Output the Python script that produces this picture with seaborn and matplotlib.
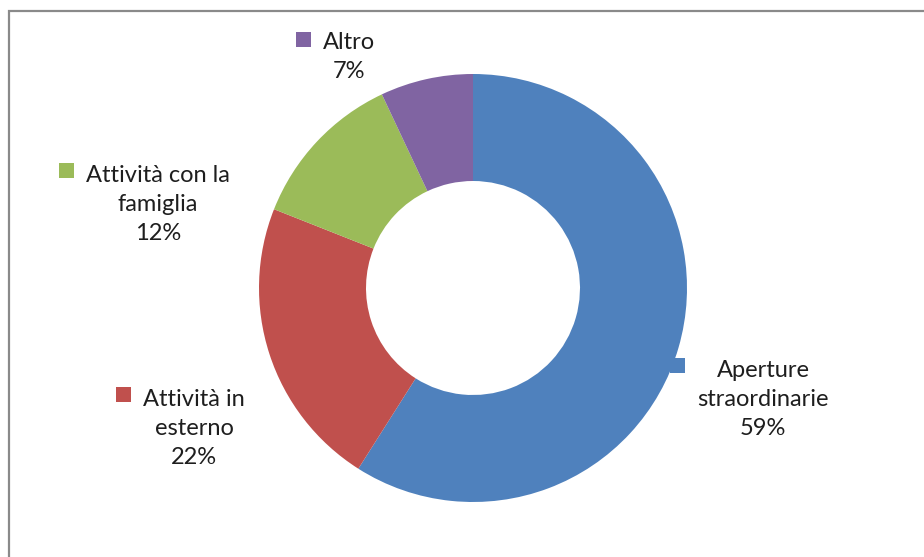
import matplotlib
matplotlib.use('Agg')
import matplotlib.pyplot as plt
from matplotlib.patches import Rectangle
import seaborn as sns

# data
categories = ['Aperture\nstraordinarie', 'Attività in\nesterno', 'Attività con la\nfamiglia', 'Altro']
shares = [59, 22, 12, 7]
colors = ['#4F81BD', '#C0504D', '#9BBB59', '#8064A2']

# label anchors: centre x, baseline of first line (pixels from top-left)
label_pos = [(763, 373), (194, 402), (158, 178), (349, 47)]
line_step = 31  # pixels between baselines

W, H = 924, 557

sns.set_theme(style='white')
plt.rcParams['font.family'] = ['Lato', 'DejaVu Sans']

fig = plt.figure(figsize=(W / 100, H / 100), dpi=100)
ax = fig.add_axes([0, 0, 1, 1])

palette = sns.color_palette(colors)
ax.pie(shares, colors=palette, startangle=90, counterclock=False,
       radius=214, center=(473, H - 288),
       wedgeprops=dict(width=107, linewidth=0))
ax.set_xlim(0, W)
ax.set_ylim(0, H)
ax.set_aspect('equal')
ax.axis('off')

# outer chart frame (right and bottom edges fall outside the image)
ax.add_patch(Rectangle((9, -20), W + 20, H - 11 + 20, fill=False,
                       edgecolor='#8a8a8a', linewidth=1.6, clip_on=False))

texts = []
for cat, val, (x, yb) in zip(categories, shares, label_pos):
    label = f'{cat}\n{val}%'
    n_lines = label.count('\n') + 1
    # multi-line text with va='baseline' sits on its last line
    t = ax.text(x, H - (yb + (n_lines - 1) * line_step), label,
                ha='center', va='baseline', multialignment='center',
                fontsize=17, color='#1e1e1e', linespacing=1.46)
    texts.append(t)

fig.canvas.draw()
renderer = fig.canvas.get_renderer()
for t, c, (x, yb) in zip(texts, palette, label_pos):
    bb = t.get_window_extent(renderer)
    ax.add_patch(Rectangle((bb.x0 - 12 - 15, H - yb), 15, 15,
                           color=c, linewidth=0, zorder=5))

fig.savefig('out.png', dpi=100)
